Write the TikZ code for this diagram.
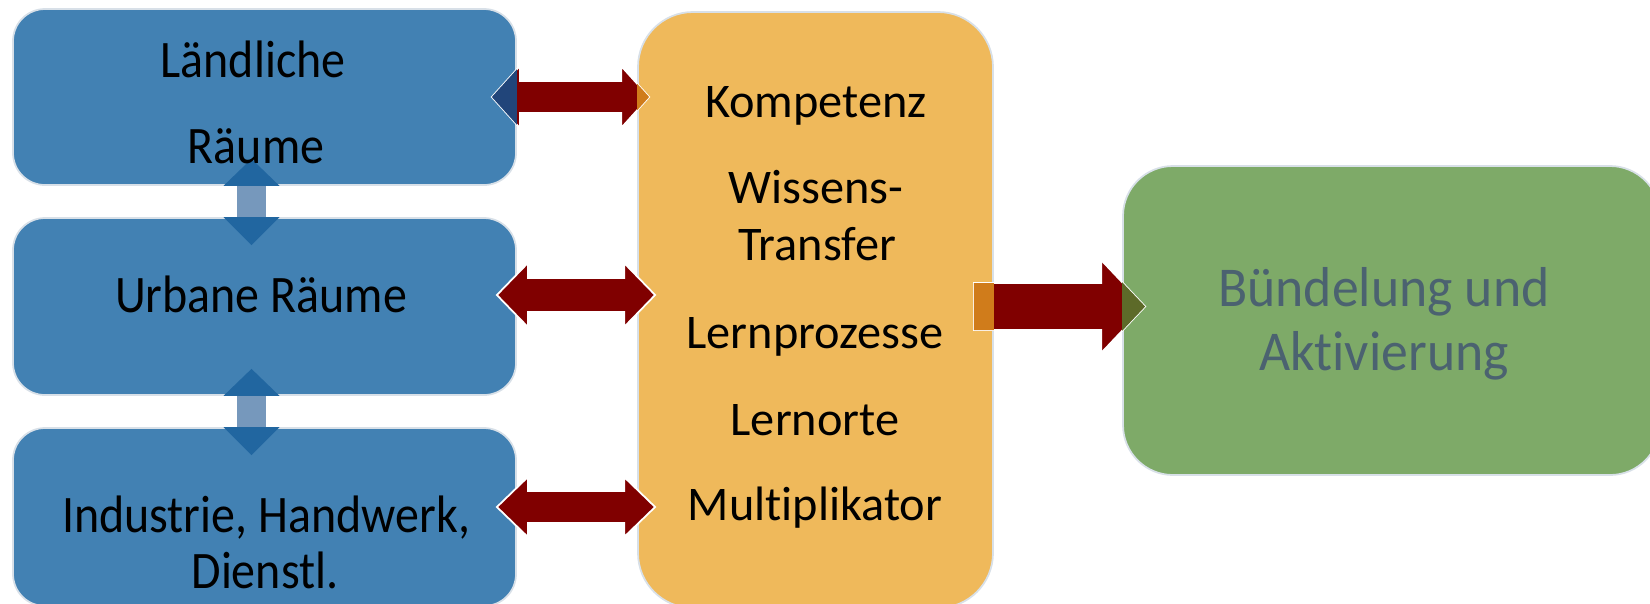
\documentclass[tikz,border=0pt]{standalone}
\usepackage{fontspec}
\setmainfont{Carlito}[Ligatures=NoCommon]
\newfontfamily\narrowfont{Carlito}[FakeStretch=0.91, Ligatures=NoCommon]
\newfontfamily\greenfont{Carlito}[FakeStretch=0.955, Ligatures=NoCommon]
\usepackage{xcolor}
\usepackage{tikz}
\usetikzlibrary{calc,fit}

\definecolor{boxblue}{HTML}{4281B3}
\definecolor{colorange}{HTML}{EFB95B}
\definecolor{boxgreen}{HTML}{7EAA68}
\definecolor{boxline}{HTML}{D8E0E8}
\definecolor{arrowred}{HTML}{800000}
\definecolor{ovnavy}{HTML}{21457A}
\definecolor{ovorange}{HTML}{D07C1B}
\definecolor{ovolive}{HTML}{5D6A29}
\definecolor{barblue}{HTML}{7698BC}
\definecolor{triblue}{HTML}{2166A0}
\definecolor{greytext}{HTML}{4B6270}

% double arrow: style, from, to, head half, shaft half, head length
\newcommand{\dblarrow}[6]{%
  \path[#1] (#2) -- ($(#2)+(#6,-#4)$) -- ($(#2)+(#6,-#5)$) -- ($(#3)+(-#6,-#5)$)
    -- ($(#3)+(-#6,-#4)$) -- (#3) -- ($(#3)+(-#6,#4)$) -- ($(#3)+(-#6,#5)$)
    -- ($(#2)+(#6,#5)$) -- ($(#2)+(#6,#4)$) -- cycle;}
% single arrow from the column to the result box
\newcommand{\outarrow}[1]{%
  \path[#1] ($(o1)+(0,-23.5)$) -- ($(o2)+(-44,-23.5)$) -- ($(o2)+(-44,-46.5)$) -- (o2)
    -- ($(o2)+(-44,46.5)$) -- ($(o2)+(-44,23.5)$) -- ($(o1)+(0,23.5)$) -- cycle;}

\begin{document}
\begin{tikzpicture}[x=0.02cm, y=-0.02cm,
    bluebox/.style={rectangle, fill=boxblue, draw=boxline, line width=1pt, rounded corners=0.64cm, inner sep=0pt},
    orangebox/.style={rectangle, fill=colorange, draw=boxline, line width=1pt, rounded corners=1.1cm, inner sep=0pt},
    greenbox/.style={rectangle, fill=boxgreen, draw=boxline, line width=1pt, rounded corners=1cm, inner sep=0pt},
    redarrow/.style={fill=arrowred, draw=white, line width=1pt},
    bluetext/.style={anchor=base, inner sep=0pt, font=\narrowfont\fontsize{30}{36}\selectfont},
    orangetext/.style={anchor=base, inner sep=0pt, font=\fontsize{27.5}{33}\selectfont},
    greentext/.style={anchor=base, inner sep=0pt, text=greytext, font=\greenfont\fontsize{32}{38}\selectfont}]
    \useasboundingbox (0,0) rectangle (1650,603);
    \clip (0,0) rectangle (1650,603);

    % Boxes
    \node[bluebox, fit={(13,9) (516,185)}] (laendlich) {};
    \node[bluebox, fit={(13,218) (516,395)}] (urban) {};
    \node[bluebox, fit={(13,428) (516,606)}] (industrie) {};
    \node[orangebox, fit={(638,12) (993,608)}] (lernen) {};
    \node[greenbox, fit={(1123,166) (1660,475)}] (buendel) {};

    % Links between the blue boxes
    \coordinate (vx) at (251.5,0);
    \foreach \up/\dn in {laendlich/urban, urban/industrie} {
        \fill[triblue] ($(\up.south -| vx)+(-28,0)$) -- ($(\up.south -| vx)+(0,-27)$) -- ($(\up.south -| vx)+(28,0)$) -- cycle;
        \fill[triblue] ($(\dn.north -| vx)+(-28,0)$) -- ($(\dn.north -| vx)+(0,28)$) -- ($(\dn.north -| vx)+(28,0)$) -- cycle;
        \fill[barblue] ($(\up.south -| vx)+(-14.5,0)$) rectangle ($(\dn.north -| vx)+(14.5,0)$);
    }

    % Double arrows to the column
    \coordinate (a1) at ($(laendlich.east)+(-25,0)$);
    \coordinate (b1) at ($(lernen.west |- a1)+(12,0)$);
    \coordinate (a2) at ($(urban.east)+(-20,-11.5)$);
    \coordinate (b2) at ($(lernen.west |- a2)+(18,0)$);
    \coordinate (a3) at ($(industrie.east)+(-20,-10)$);
    \coordinate (b3) at ($(lernen.west |- a3)+(18,0)$);
    \dblarrow{redarrow}{a1}{b1}{31}{16}{28}
    \dblarrow{redarrow}{a2}{b2}{32}{17}{31}
    \dblarrow{redarrow}{a3}{b3}{30}{16}{31}
    \begin{scope}
        \clip (laendlich.north west) rectangle (laendlich.south east);
        \dblarrow{fill=ovnavy}{a1}{b1}{31}{16}{28}
    \end{scope}
    \begin{scope}
        \clip (lernen.north west) rectangle (lernen.south east);
        \dblarrow{fill=ovorange}{a1}{b1}{31}{16}{28}
    \end{scope}

    % Arrow to the result
    \coordinate (o1) at ($(lernen.east)+(-20,-3.5)$);
    \coordinate (o2) at ($(buendel.west |- o1)+(23,0)$);
    \outarrow{redarrow}
    \begin{scope}
        \clip (lernen.north west) rectangle (lernen.south east);
        \outarrow{fill=ovorange}
    \end{scope}
    \begin{scope}
        \clip (buendel.north west) rectangle (buendel.south east);
        \outarrow{fill=ovolive}
    \end{scope}

    % Texts
    \node[bluetext] (land1) at (253,77) {Ländliche};
    \node[bluetext] (land2) at (256,163) {Räume};
    \node[bluetext] (urb) at (261,312) {Urbane Räume};
    \node[bluetext] (ind1) at (266,532) {Industrie, Handwerk,};
    \node[bluetext] (ind2) at (265,588) {Dienstl.};

    \node[orangetext] (kompetenz) at (816,117) {Kompetenz};
    \node[orangetext] (wissen1) at (816,203) {Wissens-};
    \node[orangetext] (wissen2) at (817,260) {Transfer};
    \node[orangetext] (prozesse) at (815,348) {Lernprozesse};
    \node[orangetext] (orte) at (815,435) {Lernorte};
    \node[orangetext] (multi) at (815,520) {Multiplikator};

    \node[greentext] (res1) at (1384,306) {Bündelung und};
    \node[greentext] (res2) at (1384,370) {Aktivierung};
\end{tikzpicture}
\end{document}
